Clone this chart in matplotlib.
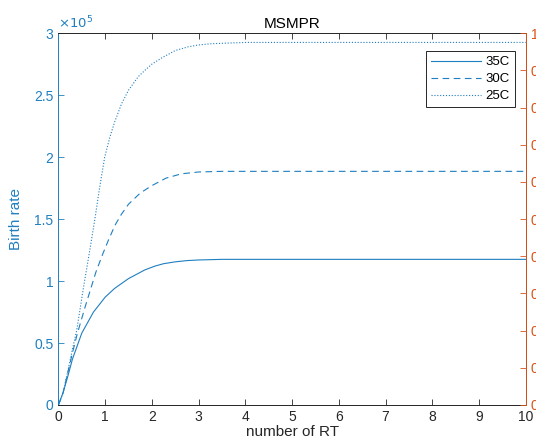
import matplotlib.pyplot as plt
from matplotlib.ticker import FuncFormatter

plt.rcParams['font.family'] = ['Liberation Sans', 'DejaVu Sans']

# values (y in units of 1e5)
x35 = [0, 0.1, 0.2, 0.3, 0.5, 0.75, 1.0, 1.2, 1.35, 1.5, 1.7, 1.85, 2.06, 2.25, 2.5, 2.75, 3.0, 3.5, 4, 5, 10]
y35 = [0, 0.1, 0.23, 0.37, 0.58, 0.75, 0.87, 0.94, 0.98, 1.02, 1.06, 1.09, 1.12, 1.14, 1.155, 1.165, 1.17, 1.175, 1.175, 1.175, 1.175]

x30 = [0, 0.1, 0.2, 0.3, 0.4, 0.57, 0.8, 0.95, 1.07, 1.21, 1.35, 1.5, 1.75, 2.0, 2.15, 2.3, 2.63, 3.0, 3.5, 4, 10]
y30 = [0, 0.1, 0.26, 0.42, 0.57, 0.79, 1.07, 1.22, 1.33, 1.45, 1.54, 1.62, 1.71, 1.77, 1.80, 1.83, 1.865, 1.88, 1.885, 1.885, 1.885]

x25 = [0, 0.1, 0.2, 0.3, 0.39, 0.55, 0.65, 0.78, 0.88, 0.99, 1.1, 1.2, 1.35, 1.5, 1.71, 1.85, 2.0, 2.21, 2.5, 2.78, 3.0, 3.28, 4, 10]
y25 = [0, 0.1, 0.27, 0.45, 0.6, 0.98, 1.2, 1.5, 1.75, 2.0, 2.16, 2.28, 2.43, 2.54, 2.65, 2.70, 2.75, 2.80, 2.86, 2.89, 2.905, 2.915, 2.925, 2.925]

labels = ['35C', '30C', '25C']
yticks = [0, 0.5, 1, 1.5, 2, 2.5, 3]

blue = '#1f7fc0'
orange = '#D95319'
dark = '#262626'

fig = plt.figure(figsize=(5.36, 4.48), dpi=100)
ax = fig.add_axes([0.109, 0.096, 0.872, 0.830])

sc = 1e5
ax.plot(x35, [v * sc for v in y35], color=blue, lw=0.8, ls='-', label=labels[0])
ax.plot(x30, [v * sc for v in y30], color=blue, lw=0.8, ls=(0, (6, 4)), label=labels[1])
ax.plot(x25, [v * sc for v in y25], color=blue, lw=0.8, ls=(0, (1, 1.6)), label=labels[2])

ax.set_xlim(0, 10)
ax.set_ylim(0, 3e5)
ax.set_xticks(range(0, 11))
ax.set_yticks([t * sc for t in yticks])
ax.yaxis.set_major_formatter(FuncFormatter(lambda v, p: '%g' % (v / sc)))
ax.text(0.0, 1.005, r'$\times10^5$', transform=ax.transAxes, color=blue,
        fontsize=9.5, ha='left', va='bottom')

ax.tick_params(axis='x', direction='in', top=True, colors=dark, labelsize=10, length=4, width=0.6)
ax.tick_params(axis='y', direction='in', colors=blue, labelsize=10, length=4, width=0.6)
ax.spines['left'].set_color(blue)
ax.spines['bottom'].set_color(dark)
ax.spines['top'].set_color(dark)
for s in ax.spines.values():
    s.set_linewidth(0.7)

ax.set_xlabel('number of RT', fontsize=11, color=dark, labelpad=1)
ax.set_ylabel('Birth rate', fontsize=11, color=blue, labelpad=8)
ax.set_title('MSMPR', fontsize=11, color='black', pad=4)

ax2 = ax.twinx()
ax2.set_ylim(0, 1)
ax2.set_yticks([i / 10 for i in range(11)])
ax2.yaxis.set_major_formatter(FuncFormatter(lambda v, p: '%g' % v))
ax2.tick_params(axis='y', direction='in', colors=orange, labelsize=10, length=4, width=0.6)
ax2.spines['right'].set_color(orange)
ax2.spines['right'].set_linewidth(0.7)
ax2.spines['left'].set_visible(False)
ax2.spines['top'].set_visible(False)
ax2.spines['bottom'].set_visible(False)

leg = ax.legend(loc='upper right', bbox_to_anchor=(0.99, 0.97), fontsize=9.5,
                handlelength=3.8, handletextpad=0.3, borderpad=0.4,
                labelspacing=0.35, fancybox=False, framealpha=1)
leg.get_frame().set_edgecolor(dark)
leg.get_frame().set_linewidth(0.7)

fig.savefig('out.png', dpi=100)
